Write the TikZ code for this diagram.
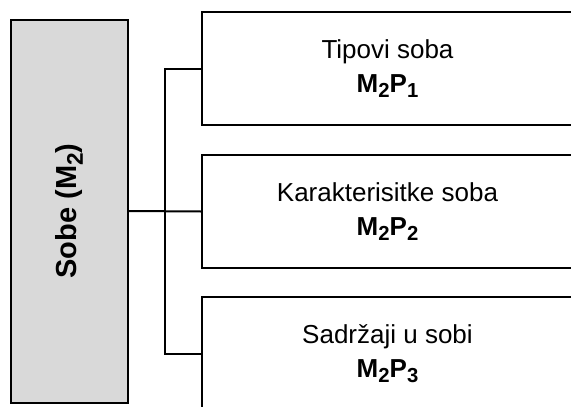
\documentclass[tikz,border=0pt]{standalone}
\usepackage{fontspec}
\setmainfont{Liberation Sans}
\usepackage{graphicx}
\usepackage{xcolor}
\definecolor{sivaSobe}{HTML}{D9D9D9}
\usetikzlibrary{positioning,calc}
\newcommand{\ind}[1]{\raisebox{-0.2em}{\scalebox{0.78}{#1}}}

\begin{document}
\begin{tikzpicture}[x=1pt,y=-1pt,
 main/.style={draw,line width=2pt,fill=sivaSobe,minimum width=383pt,
 minimum height=117pt,rotate=90,font=\fontsize{29}{30}\selectfont\bfseries},
 part/.style={draw,line width=2pt,fill=white,minimum width=371pt,
 minimum height=113pt,align=center,font=\fontsize{26}{34}\selectfont},
 link/.style={line width=2pt}]
 \useasboundingbox (0,0) rectangle (571,407);
 \node[main] (sobe) at (69.5,211) {Sobe (M\ind{2})};
 \node[part] (tip) at (387.5,68.5) {Tipovi soba\\\textbf{M\ind{2}P\ind{1}}};
 \node[part] (kar) at (387.5,211.5) {Karakterisitke soba\\\textbf{M\ind{2}P\ind{2}}};
 \node[part] (sad) at (387.5,353.5) {Sadržaji u sobi\\\textbf{M\ind{2}P\ind{3}}};
 \coordinate (bus) at ($(sobe.south)!0.5!(kar.west)$);
 \draw[link] (sobe.south) -- (kar.west);
 \draw[link] (tip.west) -- (tip.west -| bus) -- (sad.west -| bus) -- (sad.west);
\end{tikzpicture}
\end{document}
